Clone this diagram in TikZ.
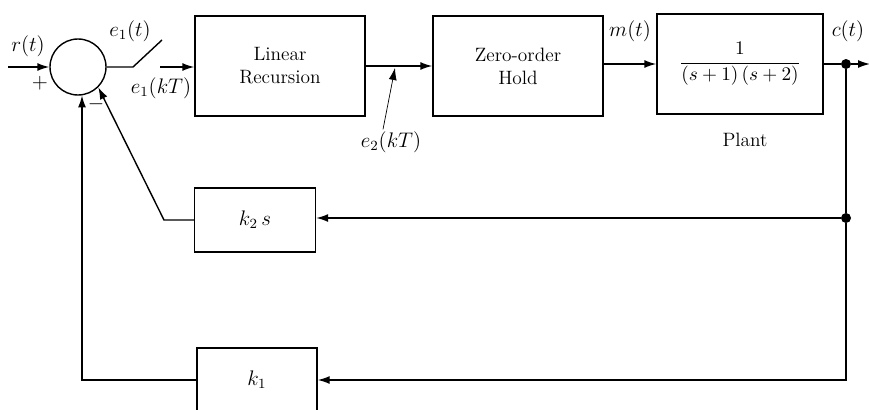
\documentclass[tikz,border=0pt]{standalone}
\usepackage{amsmath}
\usetikzlibrary{arrows.meta}
\begin{document}
\begin{tikzpicture}[x=0.2mm,y=-0.2mm,
  >={Latex[length=2.4mm,width=1.6mm]},
  blockbox/.style={draw,thick,align=center,inner sep=0pt,font=\fontsize{11}{13}\selectfont},
  sumnode/.style={draw,thick,circle,minimum size=11.2mm,inner sep=0pt},
  dotnode/.style={fill,circle,minimum size=2mm,inner sep=0pt},
  lab/.style={inner sep=1pt,font=\fontsize{12}{14}\selectfont}]
\useasboundingbox (0,0) rectangle (869,409);

\node[sumnode] (sum) at (78,67) {};
\node[blockbox,minimum width=34mm,minimum height=20mm] (lr) at (280,66) {Linear\\Recursion};
\node[blockbox,minimum width=34mm,minimum height=20mm] (zoh) at (518,66) {Zero-order\\Hold};
\node[blockbox,minimum width=33.2mm,minimum height=20mm] (plant) at (740,64) {$\displaystyle\frac{1}{(s+1)\,(s+2)}$};
\node[blockbox,minimum width=24.2mm,minimum height=12.8mm,font=\fontsize{12}{14}\selectfont] (k2s) at (255,220) {$k_2\,s$};
\node[blockbox,minimum width=24mm,minimum height=12.8mm,font=\fontsize{12}{14}\selectfont] (k1) at (257,380) {$k_1$};

\node[dotnode] (dot1) at (846,64) {};
\node[dotnode] (dot2) at (846,218) {};

\coordinate (rin) at (8,67);
\coordinate (sw1) at (133,67);
\coordinate (sw2) at (162,40);
\coordinate (sw3) at (160,67);
\coordinate (e2tip) at (395,68);
\coordinate (cout) at (870,64);
\coordinate (k2c) at (164,220);
\coordinate (brc) at (846,380);

\node[lab] (rlab) at (28,46) {$r(t)$};
\node[lab] (plus) at (40,83) {$+$};
\node[lab] (minus) at (96,104) {$-$};
\node[lab] (e1t) at (130,31) {$e_1(t)$};
\node[lab] (e1kt) at (161,88) {$e_1(kT)$};
\node[lab] (e2kt) at (391,142) {$e_2(kT)$};
\node[lab] (mt) at (630,31) {$m(t)$};
\node[lab] (ct) at (848,31) {$c(t)$};
\node[blockbox,draw=none] (plantlab) at (745,140) {Plant};

\draw[->,thick] (rin) -- (sum.west);
\draw[thick] (sum.east) -- (sw1) -- (sw2);
\draw[->,thick] (sw3) -- (lr.west |- sw3);
\draw[->,thick] (lr) -- (zoh);
\draw[->] ([xshift=-1.6mm]e2kt.north) -- (e2tip);
\draw[->,thick] (zoh.east |- plant) -- (plant);
\draw[thick] (plant.east) -- (dot1);
\draw[->,thick] (dot1) -- (cout);
\draw[thick] (dot1) -- (dot2);
\draw[->,thick] (dot2) -- (dot2 -| k2s.east);
\draw[->,thick] (k2s.west) -- (k2c) -- (sum.-45);
\draw[->,thick] (dot2) -- (brc) -- (k1.east);
\draw[->,thick] (k1.west) -| (sum.-82);
\end{tikzpicture}
\end{document}
